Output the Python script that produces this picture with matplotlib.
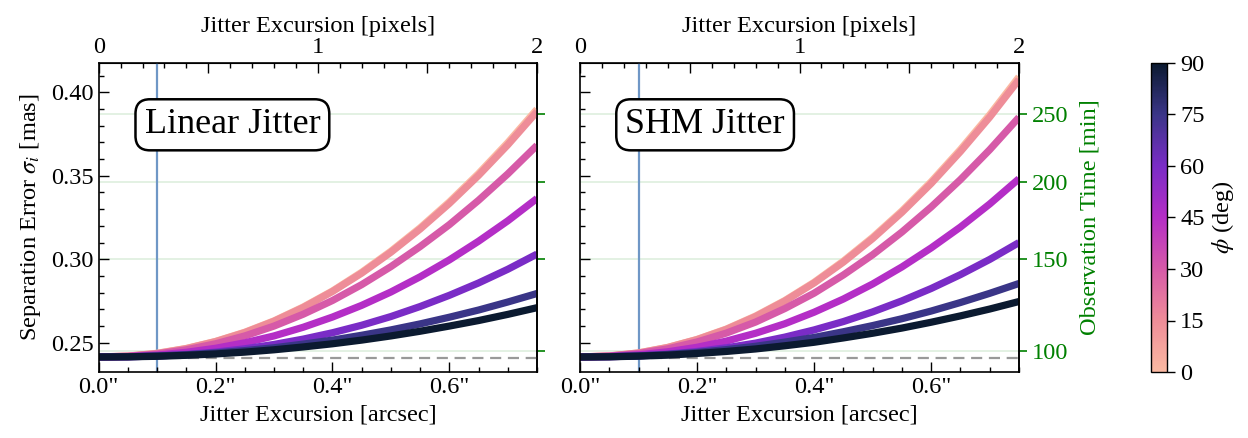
import numpy as np
import matplotlib
matplotlib.use("Agg")
import matplotlib.pyplot as plt
from matplotlib.colors import LinearSegmentedColormap, Normalize
from matplotlib.ticker import MultipleLocator, NullLocator, FuncFormatter

plt.rcParams["font.family"] = ["Liberation Serif", "DejaVu Serif"]
plt.rcParams["mathtext.fontset"] = "stix"
plt.rcParams["font.size"] = 17.6

# jitter excursion [arcsec] where the curves were read
jitter = [0.0, 0.05, 0.1, 0.15, 0.2, 0.25, 0.3, 0.35, 0.4, 0.45, 0.5, 0.55, 0.6, 0.65, 0.7, 0.75]
phis = [0, 15, 30, 45, 60, 75, 90]

# separation error [mas], one row per phi
linear_sigma = [
    [0.2415, 0.2420, 0.2437, 0.2466, 0.2508, 0.2563, 0.2631, 0.2714, 0.2810, 0.2922, 0.3048, 0.3188, 0.3343, 0.3513, 0.3698, 0.3898],
    [0.2415, 0.2420, 0.2436, 0.2465, 0.2507, 0.2561, 0.2629, 0.2711, 0.2807, 0.2917, 0.3042, 0.3181, 0.3334, 0.3502, 0.3685, 0.3884],
    [0.2415, 0.2419, 0.2433, 0.2458, 0.2494, 0.2541, 0.2600, 0.2671, 0.2753, 0.2848, 0.2956, 0.3076, 0.3207, 0.3353, 0.3511, 0.3682],
    [0.2415, 0.2417, 0.2426, 0.2443, 0.2467, 0.2500, 0.2541, 0.2593, 0.2654, 0.2724, 0.2804, 0.2895, 0.2996, 0.3108, 0.3230, 0.3364],
    [0.2415, 0.2416, 0.2421, 0.2430, 0.2444, 0.2464, 0.2490, 0.2522, 0.2560, 0.2605, 0.2657, 0.2717, 0.2784, 0.2858, 0.2940, 0.3031],
    [0.2415, 0.2416, 0.2421, 0.2428, 0.2439, 0.2453, 0.2470, 0.2492, 0.2516, 0.2545, 0.2577, 0.2613, 0.2653, 0.2696, 0.2744, 0.2795],
    [0.2415, 0.2416, 0.2419, 0.2425, 0.2433, 0.2444, 0.2458, 0.2475, 0.2494, 0.2516, 0.2541, 0.2569, 0.2600, 0.2633, 0.2670, 0.2710],
]
shm_sigma = [
    [0.2415, 0.2421, 0.2439, 0.2472, 0.2520, 0.2582, 0.2660, 0.2753, 0.2862, 0.2989, 0.3131, 0.3289, 0.3464, 0.3657, 0.3865, 0.4092],
    [0.2415, 0.2421, 0.2439, 0.2472, 0.2519, 0.2580, 0.2657, 0.2750, 0.2858, 0.2983, 0.3124, 0.3281, 0.3454, 0.3645, 0.3851, 0.4076],
    [0.2415, 0.2420, 0.2436, 0.2464, 0.2505, 0.2558, 0.2624, 0.2705, 0.2797, 0.2906, 0.3027, 0.3163, 0.3313, 0.3477, 0.3656, 0.3850],
    [0.2415, 0.2418, 0.2428, 0.2446, 0.2473, 0.2510, 0.2557, 0.2614, 0.2683, 0.2762, 0.2852, 0.2954, 0.3068, 0.3193, 0.3331, 0.3482],
    [0.2415, 0.2416, 0.2422, 0.2432, 0.2448, 0.2470, 0.2498, 0.2534, 0.2577, 0.2627, 0.2685, 0.2751, 0.2825, 0.2908, 0.2999, 0.3100],
    [0.2415, 0.2417, 0.2421, 0.2430, 0.2442, 0.2459, 0.2479, 0.2504, 0.2532, 0.2566, 0.2603, 0.2644, 0.2690, 0.2741, 0.2796, 0.2855],
    [0.2415, 0.2416, 0.2420, 0.2426, 0.2436, 0.2448, 0.2463, 0.2482, 0.2503, 0.2529, 0.2557, 0.2588, 0.2623, 0.2661, 0.2702, 0.2747],
]
baseline_sigma = 0.2410
marker_jitter = 0.1
time_ticks = [100, 150, 200, 250]
arcsec_per_pixel = 0.375
sigma_per_sqrt_min = 0.02449

cmap = LinearSegmentedColormap.from_list(
    "phi", ["#fbb9a2", "#ee8c98", "#d65aa8", "#b52ec6", "#7a2cc6", "#3b3588", "#0b1a30"])
norm = Normalize(0, 90)


def sig2time(s):
    return (np.asarray(s) / sigma_per_sqrt_min) ** 2


def time2sig(t):
    return sigma_per_sqrt_min * np.sqrt(np.maximum(np.asarray(t, dtype=float), 0))


fig = plt.figure(figsize=(12.48, 4.38), dpi=100)
ax1 = fig.add_axes([98.7 / 1248, 66 / 438, 438.3 / 1248, 309 / 438])
ax2 = fig.add_axes([580 / 1248, 66 / 438, 439 / 1248, 309 / 438], sharey=ax1)
cax = fig.add_axes([1151 / 1248, 66 / 438, 16 / 1248, 309 / 438])

for ax, data, title, tx in [(ax1, linear_sigma, "Linear Jitter", 0.305),
                            (ax2, shm_sigma, "SHM Jitter", 0.285)]:
    for t in time_ticks:
        ax.axhline(time2sig(t), color="green", alpha=0.13, lw=1.2, zorder=0)
    ax.axhline(baseline_sigma, color="#999999", ls="--", lw=1.6, dashes=(5, 3), zorder=1)
    ax.axvline(marker_jitter, color="#6f97c6", lw=1.6, zorder=1)
    for phi, ys in zip(phis, data):
        ax.plot(jitter, ys, color=cmap(norm(phi)), lw=5.2, solid_capstyle="butt",
                solid_joinstyle="round", zorder=2)
    ax.set_xlim(0, 0.75)
    ax.set_ylim(0.2325, 0.4175)
    ax.xaxis.set_major_locator(MultipleLocator(0.2))
    ax.xaxis.set_minor_locator(MultipleLocator(0.05))
    ax.xaxis.set_major_formatter(FuncFormatter(lambda v, p: f'{v:.1f}"'))
    ax.yaxis.set_major_locator(MultipleLocator(0.05))
    ax.yaxis.set_minor_locator(MultipleLocator(0.01))
    ax.tick_params(which="both", direction="in", top=False, right=False, width=1)
    ax.tick_params(which="major", length=7)
    ax.tick_params(which="minor", length=3.5)
    ax.set_xlabel("Jitter Excursion [arcsec]", labelpad=5)
    for sp in ax.spines.values():
        sp.set_linewidth(1.2)

    ax.text(tx, 0.80, title, transform=ax.transAxes, ha="center", va="center", fontsize=26,
            bbox=dict(boxstyle="round,pad=0.25,rounding_size=0.4", fc="white", ec="black", lw=1.8),
            zorder=5)

    secx = ax.secondary_xaxis("top", functions=(lambda x: x / arcsec_per_pixel,
                                                 lambda p: p * arcsec_per_pixel))
    secx.xaxis.set_major_locator(MultipleLocator(0.5))
    secx.xaxis.set_minor_locator(MultipleLocator(0.1))
    secx.xaxis.set_major_formatter(FuncFormatter(lambda v, p: f"{v:.0f}" if abs(v - round(v)) < 1e-6 else ""))
    secx.tick_params(which="both", direction="in", width=1)
    secx.tick_params(which="major", length=7)
    secx.tick_params(which="minor", length=3.5)
    secx.set_xlabel("Jitter Excursion [pixels]")

    secy = ax.secondary_yaxis("right", functions=(sig2time, time2sig))
    secy.set_yticks(time_ticks)
    secy.yaxis.set_minor_locator(NullLocator())
    secy.tick_params(axis="y", colors="green", direction="out", length=6, width=1.2)
    secy.spines["right"].set_color("black")
    secy.spines["right"].set_linewidth(1.2)
    if ax is ax1:
        secy.tick_params(labelright=False)
    else:
        secy.set_ylabel("Observation Time [min]", color="green", labelpad=8)

ax1.set_ylabel(r"Separation Error $\sigma_i$ [mas]", labelpad=6)
plt.setp(ax2.get_yticklabels(), visible=False)

sm = plt.cm.ScalarMappable(norm=norm, cmap=cmap)
cb = fig.colorbar(sm, cax=cax, ticks=phis)
cb.set_label(r"$\phi$ (deg)")
cb.ax.tick_params(direction="out", length=6, width=1)
cb.ax.minorticks_off()
cb.outline.set_linewidth(1)

fig.savefig("out.png", dpi=100)
